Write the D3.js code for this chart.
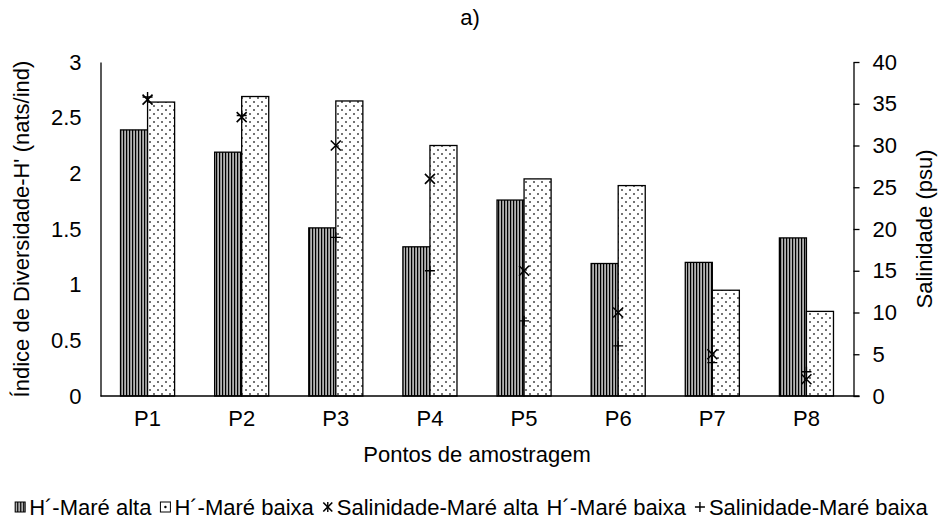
<!DOCTYPE html>
<html><head><meta charset="utf-8">
<script src="https://cdn.jsdelivr.net/npm/d3@7"></script>
<style>
body{margin:0;background:#fff;}
text{font-family:"Liberation Sans",Arial,sans-serif;fill:#000;}
</style></head>
<body><svg id="c" width="941" height="521"></svg>
<script>
const categories = ["P1","P2","P3","P4","P5","P6","P7","P8"];
const hAlta  = [2.39, 2.19, 1.51, 1.34, 1.76, 1.19, 1.20, 1.42];
const hBaixa = [2.64, 2.69, 2.65, 2.25, 1.95, 1.89, 0.95, 0.76];
const salAlta  = [35.5, 33.4, 30, 26, 15, 10, 5, 2];
const salBaixa = [35.8, 33.6, 19, 15, 9, 6, 4, 2.9];
const leftTicks = [0,0.5,1,1.5,2,2.5,3];
const rightTicks = [0,5,10,15,20,25,30,35,40];
const seriesNames = ["H´-Maré alta","H´-Maré baixa","Salinidade-Maré alta","H´-Maré baixa","Salinidade-Maré baixa"];

const svg = d3.select("#c");
const FS = 22;
const L = 100.5, R = 853.5, B = 396, T = 62;

const defs = svg.append("defs");
const ps = defs.append("pattern").attr("id","stripes").attr("patternUnits","userSpaceOnUse")
  .attr("width",3).attr("height",3);
ps.append("rect").attr("width",3).attr("height",3).attr("fill","#b4b4b4");
ps.append("rect").attr("x",0).attr("width",1.2).attr("height",3).attr("fill","#000");
const pd = defs.append("pattern").attr("id","dots").attr("patternUnits","userSpaceOnUse")
  .attr("width",8).attr("height",8);
pd.append("rect").attr("width",8).attr("height",8).attr("fill","#fff");
pd.append("circle").attr("cx",2).attr("cy",2).attr("r",1).attr("fill","#444");
pd.append("circle").attr("cx",6).attr("cy",6).attr("r",1).attr("fill","#444");

const x = d3.scaleBand().domain(categories).range([L,R]);
const xs = d3.scaleBand().domain(["a","b"]).range([0,x.bandwidth()]).paddingOuter(0.74);
const yL = d3.scaleLinear().domain([0,3]).range([B,T]);
const yR = d3.scaleLinear().domain([0,40]).range([B,T]);

// bars
const g = svg.append("g");
categories.forEach((c,i)=>{
  g.append("rect").attr("x",x(c)+xs("a")).attr("y",yL(hAlta[i]))
    .attr("width",xs.bandwidth()).attr("height",B-yL(hAlta[i]))
    .attr("fill","url(#stripes)").attr("stroke","#000").attr("stroke-width",1.3);
  g.append("rect").attr("x",x(c)+xs("b")).attr("y",yL(hBaixa[i]))
    .attr("width",xs.bandwidth()).attr("height",B-yL(hBaixa[i]))
    .attr("fill","url(#dots)").attr("stroke","#000").attr("stroke-width",1.3);
});

// axes
const axL = svg.append("g").attr("transform",`translate(${L},0)`)
  .call(d3.axisLeft(yL).tickValues(leftTicks).tickSize(0).tickPadding(19).tickFormat(d3.format("")));
axL.select(".domain").attr("stroke","#000").attr("stroke-width",1.3);
axL.selectAll("text").style("font-size",FS+"px").style("font-family","Liberation Sans, Arial, sans-serif");

const axR = svg.append("g").attr("transform",`translate(${R},0)`)
  .call(d3.axisRight(yR).tickValues(rightTicks).tickSize(6).tickSizeOuter(0).tickPadding(13));
axR.select(".domain").attr("stroke","#000").attr("stroke-width",1.3);
axR.selectAll("line").attr("stroke","#000").attr("stroke-width",1.3);
axR.selectAll("text").style("font-size",FS+"px").style("font-family","Liberation Sans, Arial, sans-serif");

const axB = svg.append("g").attr("transform",`translate(0,${B})`)
  .call(d3.axisBottom(x).tickSize(0).tickPadding(14));
axB.select(".domain").attr("d",`M${L},0H${R+6}`).attr("stroke","#000").attr("stroke-width",1.3);
axB.selectAll("text").style("font-size",FS+"px").style("font-family","Liberation Sans, Arial, sans-serif");

// markers
function xMark(sel,cx,cy,s){
  sel.append("path").attr("d",`M${cx-s},${cy-s}L${cx+s},${cy+s}M${cx-s},${cy+s}L${cx+s},${cy-s}`)
    .attr("stroke","#000").attr("stroke-width",1.6).attr("fill","none");
}
function plusMark(sel,cx,cy,s){
  sel.append("path").attr("d",`M${cx-s},${cy}H${cx+s}M${cx},${cy-s}V${cy+s}`)
    .attr("stroke","#000").attr("stroke-width",1.4).attr("fill","none");
}
const m = svg.append("g");
categories.forEach((c,i)=>{
  const cx = x(c)+x.bandwidth()/2;
  plusMark(m,cx,yR(salBaixa[i]),5);
  xMark(m,cx,yR(salAlta[i]),5);
});

// titles
svg.append("text").attr("x",470).attr("y",25).attr("text-anchor","middle").style("font-size",FS+"px").text("a)");
svg.append("text").attr("x",477).attr("y",462).attr("text-anchor","middle").style("font-size",FS+"px").text("Pontos de amostragem");
svg.append("text").attr("transform","translate(29,229) rotate(-90)").attr("text-anchor","middle").style("font-size",FS+"px").text("Índice de Diversidade-H' (nats/ind)");
svg.append("text").attr("transform","translate(932,229) rotate(-90)").attr("text-anchor","middle").style("font-size",FS+"px").text("Salinidade (psu)");

// legend
const icons = ["stripe","dot","x",null,"plus"];
const lg = svg.append("g");
let cur = 0;
const ly = 507;
const GAP = 8;
seriesNames.forEach((n,i)=>{
  const it = lg.append("g");
  let off = 0;
  if(icons[i]==="stripe"){
    it.append("rect").attr("x",1).attr("y",ly-5).attr("width",10).attr("height",10).attr("fill","url(#stripes)").attr("stroke","#000").attr("stroke-width",1);
    off = 15;
  } else if(icons[i]==="dot"){
    it.append("rect").attr("x",1).attr("y",ly-5).attr("width",10).attr("height",10).attr("fill","#fff").attr("stroke","#000").attr("stroke-width",1);
    it.append("circle").attr("cx",6).attr("cy",ly).attr("r",1.2).attr("fill","#000");
    off = 15;
  } else if(icons[i]==="x"){
    xMark(it,6,ly,4.5);
    it.append("path").attr("d",`M6,${ly-5}V${ly+5}`).attr("stroke","#000").attr("stroke-width",1.4);
    off = 15;
  } else if(icons[i]==="plus"){
    plusMark(it,6,ly,5);
    off = 15;
  }
  const t = it.append("text").attr("x",off).attr("y",ly).attr("dy","0.35em").style("font-size",FS+"px").text(n);
  const w = off + t.node().getComputedTextLength();
  it.attr("transform",`translate(${cur},0)`);
  cur += w + GAP;
});
const total = cur - GAP;
lg.attr("transform",`translate(${471 - total/2},0)`);
</script></body></html>
